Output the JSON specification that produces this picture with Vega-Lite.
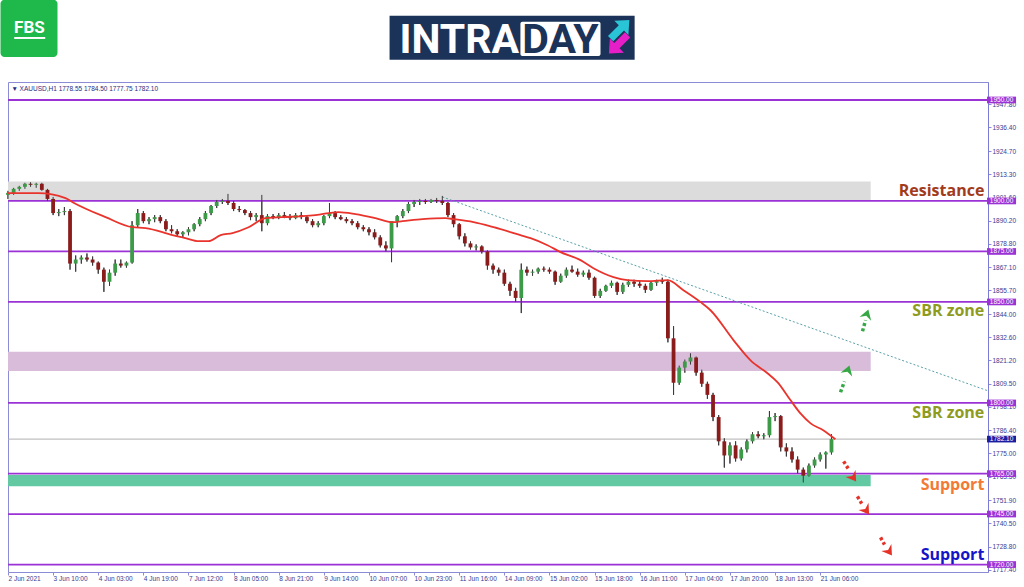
{
"$schema": "https://vega.github.io/schema/vega-lite/v6.json",
"width": 980, "height": 490,
"autosize": {"type": "none"},
"padding": {"left": 8, "top": 82, "right": 36, "bottom": 15},
"background": "white",
"config": {"view": {"stroke": "#8c8cd6", "strokeWidth": 1}, "font": "Liberation Sans"},
"datasets": {
"candles": [
{"t":0,"o":1903,"h":1905,"l":1901,"c":1904},
{"t":2,"o":1904,"h":1906.5,"l":1903,"c":1906},
{"t":4,"o":1906,"h":1907.5,"l":1905,"c":1907},
{"t":6,"o":1907,"h":1909,"l":1906,"c":1908.5},
{"t":8,"o":1908.5,"h":1909.3,"l":1907,"c":1908},
{"t":10,"o":1908,"h":1909,"l":1906.5,"c":1908.5},
{"t":12,"o":1908.5,"h":1909,"l":1905,"c":1905.5},
{"t":14,"o":1905.5,"h":1906,"l":1900,"c":1901},
{"t":16,"o":1901,"h":1902,"l":1893,"c":1894},
{"t":18,"o":1894,"h":1896,"l":1892.5,"c":1894.5},
{"t":20,"o":1894.5,"h":1897,"l":1893,"c":1895},
{"t":22,"o":1895,"h":1896,"l":1866,"c":1869},
{"t":24,"o":1869,"h":1873,"l":1865,"c":1871},
{"t":26,"o":1871,"h":1873,"l":1869,"c":1872},
{"t":28,"o":1872,"h":1874,"l":1870,"c":1871},
{"t":30,"o":1871,"h":1872.5,"l":1868,"c":1869.5},
{"t":32,"o":1869.5,"h":1870,"l":1864,"c":1866},
{"t":34,"o":1866,"h":1867,"l":1855,"c":1860},
{"t":36,"o":1860,"h":1866,"l":1858,"c":1864.5},
{"t":38,"o":1864.5,"h":1871,"l":1863,"c":1869},
{"t":40,"o":1869,"h":1871,"l":1867,"c":1868},
{"t":42,"o":1868,"h":1870,"l":1867,"c":1869.5},
{"t":44,"o":1869.5,"h":1890,"l":1869,"c":1888},
{"t":46,"o":1888,"h":1896,"l":1887,"c":1894},
{"t":48,"o":1894,"h":1895,"l":1889,"c":1890},
{"t":50,"o":1890,"h":1892,"l":1888.5,"c":1891},
{"t":52,"o":1891,"h":1893,"l":1889.5,"c":1892},
{"t":54,"o":1892,"h":1893,"l":1889,"c":1890},
{"t":56,"o":1890,"h":1891,"l":1885,"c":1886},
{"t":58,"o":1886,"h":1888,"l":1884,"c":1885},
{"t":60,"o":1885,"h":1886,"l":1882.5,"c":1883.5},
{"t":62,"o":1883.5,"h":1885,"l":1882,"c":1884.5},
{"t":64,"o":1884.5,"h":1887,"l":1883,"c":1886},
{"t":66,"o":1886,"h":1889,"l":1885,"c":1888.5},
{"t":68,"o":1888.5,"h":1892,"l":1887.5,"c":1891},
{"t":70,"o":1891,"h":1895,"l":1890,"c":1894},
{"t":72,"o":1894,"h":1898,"l":1893,"c":1897.5},
{"t":74,"o":1897.5,"h":1900.5,"l":1896.5,"c":1899.5},
{"t":76,"o":1899.5,"h":1901,"l":1898.5,"c":1900},
{"t":78,"o":1900,"h":1903.5,"l":1898,"c":1899},
{"t":80,"o":1899,"h":1900,"l":1895,"c":1896},
{"t":82,"o":1896,"h":1897.5,"l":1894.5,"c":1895.5},
{"t":84,"o":1895.5,"h":1896,"l":1893,"c":1894},
{"t":86,"o":1894,"h":1895,"l":1890.5,"c":1892},
{"t":88,"o":1892,"h":1894,"l":1890,"c":1893},
{"t":90,"o":1893,"h":1903,"l":1885,"c":1889},
{"t":92,"o":1889,"h":1893.5,"l":1888,"c":1892.5},
{"t":94,"o":1892.5,"h":1893.5,"l":1891,"c":1892},
{"t":96,"o":1892,"h":1894,"l":1891,"c":1893},
{"t":98,"o":1893,"h":1894.5,"l":1891.5,"c":1892},
{"t":100,"o":1892,"h":1893.5,"l":1890.5,"c":1891.5},
{"t":102,"o":1891.5,"h":1894,"l":1891,"c":1893},
{"t":104,"o":1893,"h":1894.5,"l":1891,"c":1892},
{"t":106,"o":1892,"h":1893,"l":1889,"c":1890},
{"t":108,"o":1890,"h":1891,"l":1887,"c":1888},
{"t":110,"o":1888,"h":1890,"l":1887,"c":1889},
{"t":112,"o":1889,"h":1893,"l":1888,"c":1892.5},
{"t":114,"o":1892.5,"h":1899,"l":1891.5,"c":1894},
{"t":116,"o":1894,"h":1895,"l":1891,"c":1892},
{"t":118,"o":1892,"h":1893,"l":1890.5,"c":1891},
{"t":120,"o":1891,"h":1892,"l":1889,"c":1890},
{"t":122,"o":1890,"h":1891,"l":1888,"c":1889},
{"t":124,"o":1889,"h":1890,"l":1886,"c":1887},
{"t":126,"o":1887,"h":1888,"l":1885,"c":1886},
{"t":128,"o":1886,"h":1887,"l":1883,"c":1884.5},
{"t":130,"o":1884.5,"h":1886,"l":1881,"c":1882},
{"t":132,"o":1882,"h":1883,"l":1877,"c":1878},
{"t":134,"o":1878,"h":1880,"l":1875,"c":1876.5},
{"t":136,"o":1876.5,"h":1877,"l":1869.7,"c":1890},
{"t":138,"o":1890,"h":1893,"l":1887,"c":1892.5},
{"t":140,"o":1892.5,"h":1896,"l":1891.5,"c":1895},
{"t":142,"o":1895,"h":1899.5,"l":1894,"c":1898.5},
{"t":144,"o":1898.5,"h":1900.5,"l":1897,"c":1899.5},
{"t":146,"o":1899.5,"h":1901,"l":1898,"c":1900},
{"t":148,"o":1900,"h":1901,"l":1898.5,"c":1899.5},
{"t":150,"o":1899.5,"h":1901,"l":1899,"c":1900.5},
{"t":152,"o":1900.5,"h":1901.5,"l":1899,"c":1900},
{"t":154,"o":1900,"h":1902.5,"l":1898,"c":1899},
{"t":156,"o":1899,"h":1899.5,"l":1892,"c":1893},
{"t":158,"o":1893,"h":1894,"l":1887,"c":1888.5},
{"t":160,"o":1888.5,"h":1889,"l":1881,"c":1882.5},
{"t":162,"o":1882.5,"h":1884,"l":1877.5,"c":1879},
{"t":164,"o":1879,"h":1880,"l":1876,"c":1877},
{"t":166,"o":1877,"h":1878.5,"l":1875.5,"c":1877.5},
{"t":168,"o":1877.5,"h":1878,"l":1874,"c":1875},
{"t":170,"o":1875,"h":1875.5,"l":1866,"c":1868},
{"t":172,"o":1868,"h":1869,"l":1864,"c":1866},
{"t":174,"o":1866,"h":1867,"l":1863,"c":1864.5},
{"t":176,"o":1864.5,"h":1866,"l":1858,"c":1859},
{"t":178,"o":1859,"h":1860,"l":1853,"c":1855.5},
{"t":180,"o":1855.5,"h":1857,"l":1850,"c":1852},
{"t":182,"o":1852,"h":1869,"l":1844.5,"c":1866},
{"t":184,"o":1866,"h":1867.5,"l":1863,"c":1864.5},
{"t":186,"o":1864.5,"h":1866,"l":1863,"c":1865},
{"t":188,"o":1865,"h":1867,"l":1864,"c":1866.5},
{"t":190,"o":1866.5,"h":1867.5,"l":1865,"c":1866},
{"t":192,"o":1866,"h":1867,"l":1864,"c":1865},
{"t":194,"o":1865,"h":1865.5,"l":1858.5,"c":1860},
{"t":196,"o":1860,"h":1864,"l":1859.5,"c":1863},
{"t":198,"o":1863,"h":1867,"l":1862,"c":1866},
{"t":200,"o":1866,"h":1868,"l":1864.5,"c":1865},
{"t":202,"o":1865,"h":1866.5,"l":1862.5,"c":1863.5},
{"t":204,"o":1863.5,"h":1865.5,"l":1862.5,"c":1864.5},
{"t":206,"o":1864.5,"h":1866,"l":1861,"c":1862},
{"t":208,"o":1862,"h":1862.5,"l":1852,"c":1853},
{"t":210,"o":1853,"h":1856.5,"l":1852,"c":1855.5},
{"t":212,"o":1855.5,"h":1858.5,"l":1855,"c":1858},
{"t":214,"o":1858,"h":1860.5,"l":1857,"c":1859.5},
{"t":216,"o":1859.5,"h":1860,"l":1853.5,"c":1855},
{"t":218,"o":1855,"h":1859.5,"l":1854,"c":1858.5},
{"t":220,"o":1858.5,"h":1861,"l":1857.5,"c":1860},
{"t":222,"o":1860,"h":1861,"l":1857.5,"c":1859},
{"t":224,"o":1859,"h":1860.5,"l":1857,"c":1858},
{"t":226,"o":1858,"h":1859,"l":1854.5,"c":1856},
{"t":228,"o":1856,"h":1860,"l":1855.5,"c":1859.5},
{"t":230,"o":1859.5,"h":1861,"l":1858,"c":1860.5},
{"t":232,"o":1860.5,"h":1862,"l":1859,"c":1860},
{"t":234,"o":1860,"h":1861,"l":1830,"c":1832},
{"t":236,"o":1832,"h":1838,"l":1804,"c":1810},
{"t":238,"o":1810,"h":1818.5,"l":1809,"c":1817.5},
{"t":240,"o":1817.5,"h":1821.5,"l":1815,"c":1820.5},
{"t":242,"o":1820.5,"h":1824.6,"l":1819,"c":1822.5},
{"t":244,"o":1822.5,"h":1823,"l":1813.5,"c":1815},
{"t":246,"o":1815,"h":1816.5,"l":1808,"c":1809.5},
{"t":248,"o":1809.5,"h":1810.5,"l":1802,"c":1804},
{"t":250,"o":1804,"h":1805,"l":1791,"c":1793},
{"t":252,"o":1793,"h":1794,"l":1779,"c":1781},
{"t":254,"o":1781,"h":1782.5,"l":1768,"c":1774},
{"t":256,"o":1774,"h":1780.5,"l":1770,"c":1779},
{"t":258,"o":1779,"h":1781,"l":1771,"c":1772.5},
{"t":260,"o":1772.5,"h":1778,"l":1771.5,"c":1777},
{"t":262,"o":1777,"h":1782,"l":1775.5,"c":1781},
{"t":264,"o":1781,"h":1785.5,"l":1780,"c":1784.5},
{"t":266,"o":1784.5,"h":1786,"l":1782.5,"c":1783.5},
{"t":268,"o":1783.5,"h":1785,"l":1782,"c":1784},
{"t":270,"o":1784,"h":1796,"l":1783,"c":1793},
{"t":272,"o":1793,"h":1795,"l":1791,"c":1793.5},
{"t":274,"o":1793.5,"h":1794,"l":1776,"c":1778},
{"t":276,"o":1778,"h":1780,"l":1773.5,"c":1776},
{"t":278,"o":1776,"h":1778,"l":1770.5,"c":1772},
{"t":280,"o":1772,"h":1773.5,"l":1765,"c":1767},
{"t":282,"o":1767,"h":1768,"l":1760.6,"c":1764},
{"t":284,"o":1764,"h":1770,"l":1763.5,"c":1769},
{"t":286,"o":1769,"h":1773,"l":1768,"c":1772},
{"t":288,"o":1772,"h":1775.5,"l":1771,"c":1774.5},
{"t":290,"o":1774.5,"h":1776,"l":1767.5,"c":1775.5},
{"t":292,"o":1775.5,"h":1784.5,"l":1774.5,"c":1782.1}
],
"ma": [
{"t":0,"v":1903.9},{"t":10.8,"v":1903.9},{"t":20.4,"v":1901.4},{"t":22.9,"v":1899.4},{"t":34.6,"v":1892.0},{"t":44.1,"v":1887.0},{"t":48.8,"v":1886.6},{"t":58.3,"v":1883.1},{"t":62.9,"v":1881.6},{"t":67.6,"v":1880.1},{"t":71.1,"v":1880.1},{"t":75.4,"v":1883.1},{"t":79.6,"v":1884.1},{"t":85.3,"v":1887.0},{"t":91.3,"v":1891.5},{"t":97.3,"v":1892.0},{"t":104.4,"v":1892.5},{"t":109.0,"v":1893.0},{"t":117.2,"v":1894.5},{"t":123.2,"v":1893.5},{"t":130.3,"v":1891.5},{"t":136.3,"v":1889.5},{"t":139.9,"v":1890.0},{"t":147.0,"v":1891.0},{"t":155.1,"v":1891.5},{"t":158.0,"v":1891.0},{"t":165.1,"v":1889.5},{"t":172.2,"v":1887.0},{"t":181.7,"v":1883.1},{"t":185.3,"v":1881.6},{"t":191.3,"v":1878.1},{"t":195.9,"v":1874.7},{"t":203.0,"v":1870.7},{"t":207.6,"v":1866.7},{"t":214.7,"v":1862.3},{"t":219.7,"v":1860.8},{"t":226.8,"v":1860.3},{"t":233.9,"v":1860.8},{"t":239.5,"v":1855.8},{"t":245.6,"v":1849.9},{"t":249.1,"v":1845.9},{"t":257.3,"v":1831.0},{"t":263.3,"v":1821.1},{"t":269.3,"v":1814.7},{"t":272.9,"v":1810.2},{"t":277.5,"v":1801.3},{"t":281.0,"v":1794.8},{"t":284.6,"v":1789.9},{"t":289.2,"v":1786.4},{"t":293.4,"v":1782.0}
]
},
"layer": [
{"data": {"name": "candles"},
 "mark": {"type": "rule", "strokeWidth": 1, "color": "#3a3a3a"},
 "encoding": {
  "x": {"field": "t", "type": "quantitative", "scale": {"domain": [0, 347.5], "nice": false, "zero": false, "padding": 0},
   "axis": {"orient": "bottom", "values": [0,16,32,48,64,80,96,112,128,144,160,176,192,208,224,240,256,272,288], "tickCount": 60,
    "labelExpr": "['2 Jun 2021','3 Jun 10:00','4 Jun 03:00','4 Jun 19:00','7 Jun 12:00','8 Jun 05:00','8 Jun 21:00','9 Jun 14:00','10 Jun 07:00','10 Jun 23:00','11 Jun 16:00','14 Jun 09:00','15 Jun 02:00','15 Jun 18:00','16 Jun 11:00','17 Jun 04:00','17 Jun 20:00','18 Jun 13:00','21 Jun 06:00'][round(datum.value/16)]",
    "labelAlign": "left", "labelFontSize": 6.5, "labelColor": "#3a3a90", "tickColor": "#8c8cd6", "tickSize": 3, "domain": false, "grid": false, "title": null, "labelPadding": 0, "labelOverlap": false, "labelFlush": false}},
  "y": {"field": "l", "type": "quantitative", "scale": {"domain": [1716.3, 1958.9], "nice": false, "zero": false},
   "axis": {"orient": "right", "values": [1947.8,1936.4,1924.7,1913.3,1901.6,1890.2,1878.8,1867.1,1855.7,1844,1832.6,1821.2,1809.5,1798.1,1786.4,1775,1763.5,1751.9,1740.5,1728.8,1717.4], "tickCount": 60,
    "format": ".2f", "labelFontSize": 6.5, "labelColor": "#3a3a90", "tickColor": "#8c8cd6", "tickSize": 3, "domainColor": "#7b7bd6", "grid": false, "title": null, "labelPadding": 1, "labelOverlap": false, "labelFlush": false}},
  "y2": {"field": "h"}}},
{"data": {"values": [{}]},
 "mark": {"type": "rect", "color": "#dcdcdc"},
 "encoding": {"x": {"datum": 0, "type": "quantitative"}, "x2": {"datum": 305.9},
  "y": {"datum": 1900.3, "type": "quantitative"}, "y2": {"datum": 1909.6}}},
{"data": {"values": [{}]},
 "mark": {"type": "rect", "color": "#d8bcd9"},
 "encoding": {"x": {"datum": 0, "type": "quantitative"}, "x2": {"datum": 305.9},
  "y": {"datum": 1815.8, "type": "quantitative"}, "y2": {"datum": 1825.3}}},
{"data": {"values": [{}]},
 "mark": {"type": "rect", "color": "#62c9a2"},
 "encoding": {"x": {"datum": 0, "type": "quantitative"}, "x2": {"datum": 305.9},
  "y": {"datum": 1758.7, "type": "quantitative"}, "y2": {"datum": 1764.3}}},
{"data": {"values": [{"p": 1782.1}]},
 "mark": {"type": "rule", "color": "#b0b0b0", "strokeWidth": 1},
 "encoding": {"y": {"field": "p", "type": "quantitative"}}},
{"data": {"values": [{"p":1950},{"p":1900},{"p":1875},{"p":1850},{"p":1800},{"p":1765},{"p":1745},{"p":1720}]},
 "mark": {"type": "rule", "color": "#9b32d6", "strokeWidth": 1.8},
 "encoding": {"y": {"field": "p", "type": "quantitative"}}},
{"data": {"values": [{"t": 154, "p": 1902}, {"t": 347.5, "p": 1806}]},
 "mark": {"type": "line", "color": "#5aa0a8", "strokeWidth": 1, "strokeDash": [2, 2]},
 "encoding": {"x": {"field": "t", "type": "quantitative"}, "y": {"field": "p", "type": "quantitative"}}},
{"data": {"name": "candles"},
 "mark": {"type": "rule", "strokeWidth": 1, "color": "#3a3a3a"},
 "encoding": {"x": {"field": "t", "type": "quantitative"},
  "y": {"field": "l", "type": "quantitative"}, "y2": {"field": "h"}}},
{"data": {"name": "candles"},
 "mark": {"type": "bar", "size": 3.8},
 "encoding": {"x": {"field": "t", "type": "quantitative"},
  "y": {"field": "o", "type": "quantitative"}, "y2": {"field": "c"},
  "color": {"condition": {"test": "datum.c >= datum.o", "value": "#3c9a48"}, "value": "#8a1c1c"}}},
{"data": {"name": "ma"},
 "mark": {"type": "line", "color": "#e8342c", "strokeWidth": 1.8, "interpolate": "monotone"},
 "encoding": {"x": {"field": "t", "type": "quantitative"}, "y": {"field": "v", "type": "quantitative"}}},
{"data": {"values": [{"t1":303.0,"p1":1835.5,"t2":304.1,"p2":1841.0},{"t1":295.2,"p1":1805.3,"t2":296.6,"p2":1810.7}]},
 "mark": {"type": "rule", "color": "#35a845", "strokeWidth": 3.5, "strokeDash": [3, 2.5]},
 "encoding": {"x": {"field": "t1", "type": "quantitative"}, "y": {"field": "p1", "type": "quantitative"},
  "x2": {"field": "t2"}, "y2": {"field": "p2"}}},
{"data": {"values": [{"t1":296.3,"p1":1771.1,"t2":298.1,"p2":1767.1},{"t1":301.2,"p1":1753.7,"t2":302.7,"p2":1750.2},{"t1":309.4,"p1":1733.4,"t2":310.8,"p2":1729.9}]},
 "mark": {"type": "rule", "color": "#e53228", "strokeWidth": 3.5, "strokeDash": [3, 2.5]},
 "encoding": {"x": {"field": "t1", "type": "quantitative"}, "y": {"field": "p1", "type": "quantitative"},
  "x2": {"field": "t2"}, "y2": {"field": "p2"}}},
{"data": {"values": [{"t":304.4,"p":1843.4},{"t":297.7,"p":1815.7}]},
 "mark": {"type": "point", "shape": "M0,-1 L1,0.6 L0,0.1 L-1,0.6 Z", "filled": true, "opacity": 1, "size": 150, "angle": 18, "color": "#35a845"},
 "encoding": {"x": {"field": "t", "type": "quantitative"}, "y": {"field": "p", "type": "quantitative"}}},
{"data": {"values": [{"t":299.5,"p":1763.6},{"t":304.1,"p":1747.3},{"t":312.2,"p":1726.9}]},
 "mark": {"type": "point", "shape": "M0,-1 L1,0.6 L0,0.1 L-1,0.6 Z", "filled": true, "opacity": 1, "size": 150, "angle": 145, "color": "#e53228"},
 "encoding": {"x": {"field": "t", "type": "quantitative"}, "y": {"field": "p", "type": "quantitative"}}},
{"data": {"values": [{"txt":"Resistance","p":1904.9,"k":"a"},{"txt":"SBR zone","p":1845.4,"k":"b"},{"txt":"SBR zone","p":1794.9,"k":"b"},{"txt":"Support","p":1759.5,"k":"c"},{"txt":"Support","p":1724.5,"k":"d"}]},
 "mark": {"type": "text", "align": "right", "baseline": "middle", "font": "Open Sans", "fontWeight": "bold", "fontSize": 16},
 "encoding": {"x": {"datum": 346.2, "type": "quantitative"}, "y": {"field": "p", "type": "quantitative"},
  "text": {"field": "txt"},
  "color": {"field": "k", "type": "nominal", "legend": null, "scale": {"domain": ["a","b","c","d"], "range": ["#a23a1c","#8f9b1e","#f27a35","#1414c8"]}}}},
{"data": {"values": [{"p":1950},{"p":1900},{"p":1875},{"p":1850},{"p":1800},{"p":1765},{"p":1745},{"p":1720}]},
 "layer": [
  {"mark": {"type": "point", "shape": "M-1,-0.23 L1,-0.23 L1,0.23 L-1,0.23 Z", "filled": true, "opacity": 1, "size": 841, "color": "#9b32d6"},
   "encoding": {"x": {"datum": 352.3, "type": "quantitative"}, "y": {"field": "p", "type": "quantitative"}}},
  {"mark": {"type": "text", "color": "white", "fontSize": 6.5, "align": "center", "baseline": "middle"},
   "encoding": {"x": {"datum": 352.3, "type": "quantitative"}, "y": {"field": "p", "type": "quantitative"},
    "text": {"field": "p", "type": "quantitative", "format": ".2f"}}}
 ]},
{"data": {"values": [{"p": 1782.1}]},
 "layer": [
  {"mark": {"type": "point", "shape": "M-1,-0.23 L1,-0.23 L1,0.23 L-1,0.23 Z", "filled": true, "opacity": 1, "size": 841, "color": "#1c1ca0"},
   "encoding": {"x": {"datum": 352.3, "type": "quantitative"}, "y": {"field": "p", "type": "quantitative"}}},
  {"mark": {"type": "text", "color": "white", "fontSize": 6.5, "align": "center", "baseline": "middle"},
   "encoding": {"x": {"datum": 352.3, "type": "quantitative"}, "y": {"field": "p", "type": "quantitative"},
    "text": {"field": "p", "type": "quantitative", "format": ".2f"}}}
 ]},
{"data": {"values": [{"txt": "▼ XAUUSD,H1  1778.55 1784.50 1777.75 1782.10"}]},
 "mark": {"type": "text", "align": "left", "baseline": "middle", "fontSize": 6.5, "color": "#2a2a80"},
 "encoding": {"x": {"datum": 1.2, "type": "quantitative"}, "y": {"datum": 1955.6, "type": "quantitative"}, "text": {"field": "txt"}}},
{"data": {"values": [{}]},
 "mark": {"type": "rect", "color": "#1fb84b", "cornerRadius": 4},
 "encoding": {"x": {"datum": -2.66, "type": "quantitative"}, "x2": {"datum": 17.55},
  "y": {"datum": 1999.6, "type": "quantitative"}, "y2": {"datum": 1971.3}}},
{"data": {"values": [{"txt": "FBS"}]},
 "mark": {"type": "text", "align": "center", "baseline": "alphabetic", "font": "Roboto", "fontWeight": "bold", "fontSize": 17, "color": "white"},
 "encoding": {"x": {"datum": 7.6, "type": "quantitative"}, "y": {"datum": 1983.3, "type": "quantitative"}, "text": {"field": "txt"}}},
{"data": {"values": [{}]},
 "mark": {"type": "rule", "color": "white", "strokeWidth": 2},
 "encoding": {"x": {"datum": 2.2, "type": "quantitative"}, "x2": {"datum": 13.2},
  "y": {"datum": 1980.7, "type": "quantitative"}}},
{"data": {"values": [{}]},
 "mark": {"type": "rect", "color": "#1b3358"},
 "encoding": {"x": {"datum": 135.3, "type": "quantitative"}, "x2": {"datum": 222.2},
  "y": {"datum": 1991.7, "type": "quantitative"}, "y2": {"datum": 1969.9}}},
{"data": {"values": [{}]},
 "mark": {"type": "rect", "color": "white", "cornerRadius": 2},
 "encoding": {"x": {"datum": 181.7, "type": "quantitative"}, "x2": {"datum": 210.1},
  "y": {"datum": 1988.7, "type": "quantitative"}, "y2": {"datum": 1971.8}}},
{"data": {"values": [{"txt": "INTRA"}]},
 "mark": {"type": "text", "align": "right", "baseline": "alphabetic", "font": "Roboto", "fontWeight": "bold", "fontSize": 41, "color": "white"},
 "encoding": {"x": {"datum": 181.2, "type": "quantitative"}, "y": {"datum": 1973.3, "type": "quantitative"}, "text": {"field": "txt"}}},
{"data": {"values": [{"txt": "DAY"}]},
 "mark": {"type": "text", "align": "center", "baseline": "alphabetic", "font": "Roboto", "fontWeight": "bold", "fontSize": 41, "color": "#1b3358"},
 "encoding": {"x": {"datum": 195.9, "type": "quantitative"}, "y": {"datum": 1973.3, "type": "quantitative"}, "text": {"field": "txt"}}},
{"data": {"values": [{}]},
 "mark": {"type": "point", "shape": "M0,-1 L0.75,-0.15 L0.28,-0.15 L0.28,1 L-0.28,1 L-0.28,-0.15 L-0.75,-0.15 Z", "filled": true, "opacity": 1, "size": 700, "angle": 45, "color": "#29c4d6"},
 "encoding": {"x": {"datum": 217.0, "type": "quantitative"}, "y": {"datum": 1985.0, "type": "quantitative"}}},
{"data": {"values": [{}]},
 "mark": {"type": "point", "shape": "M0,-1 L0.75,-0.15 L0.28,-0.15 L0.28,1 L-0.28,1 L-0.28,-0.15 L-0.75,-0.15 Z", "filled": true, "opacity": 1, "size": 700, "angle": 225, "color": "#e61ec8"},
 "encoding": {"x": {"datum": 216.4, "type": "quantitative"}, "y": {"datum": 1977.6, "type": "quantitative"}}}
]
}
